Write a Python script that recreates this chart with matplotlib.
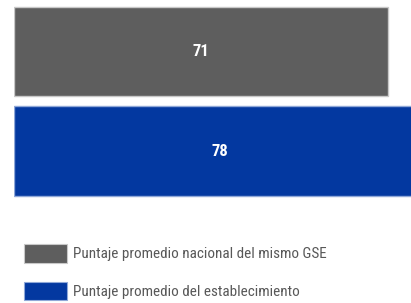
import matplotlib
matplotlib.use("Agg")
import matplotlib.pyplot as plt
from matplotlib.patches import Patch

categories = ["Puntaje promedio nacional del mismo GSE", "Puntaje promedio del establecimiento"]
values = [71, 78]
colors = ["#5e5e5e", "#0338a0"]
edges = ["#c8c8c8", "#8fa8d8"]

plt.rcParams["font.family"] = ["Roboto Condensed", "Liberation Sans", "DejaVu Sans"]

W, H = 411, 303
fig = plt.figure(figsize=(W / 100, H / 100), dpi=100)
ax = fig.add_axes([14 / W, 0, (W - 14) / W, 1])
ax.set_xlim(0, 75.37)
ax.set_ylim(2.5276, -0.5176)
ax.axis("off")

pos = list(range(len(values)))
ax.barh(pos, values, height=0.9, color=colors, edgecolor=edges, linewidth=1)
for p, v in zip(pos, values):
    ax.text(v / 2, p, f"{v}", ha="center", va="center", color="white",
            fontsize=12, fontweight="bold")

handles = [Patch(facecolor=c, edgecolor=e, linewidth=0.8) for c, e in zip(colors, edges)]
fs = 10.9
fspx = fs * 100 / 72
leg = fig.legend(handles, categories, loc="upper left",
                 bbox_to_anchor=(24 / W, 1 - 244 / H), frameon=False,
                 fontsize=fs, handlelength=43 / fspx, handleheight=23 / fspx,
                 handletextpad=6 / fspx, labelspacing=(42 - 23) / fspx,
                 borderpad=0, borderaxespad=0)
for t in leg.get_texts():
    t.set_color("#585858")

fig.savefig("out.png", dpi=100)
